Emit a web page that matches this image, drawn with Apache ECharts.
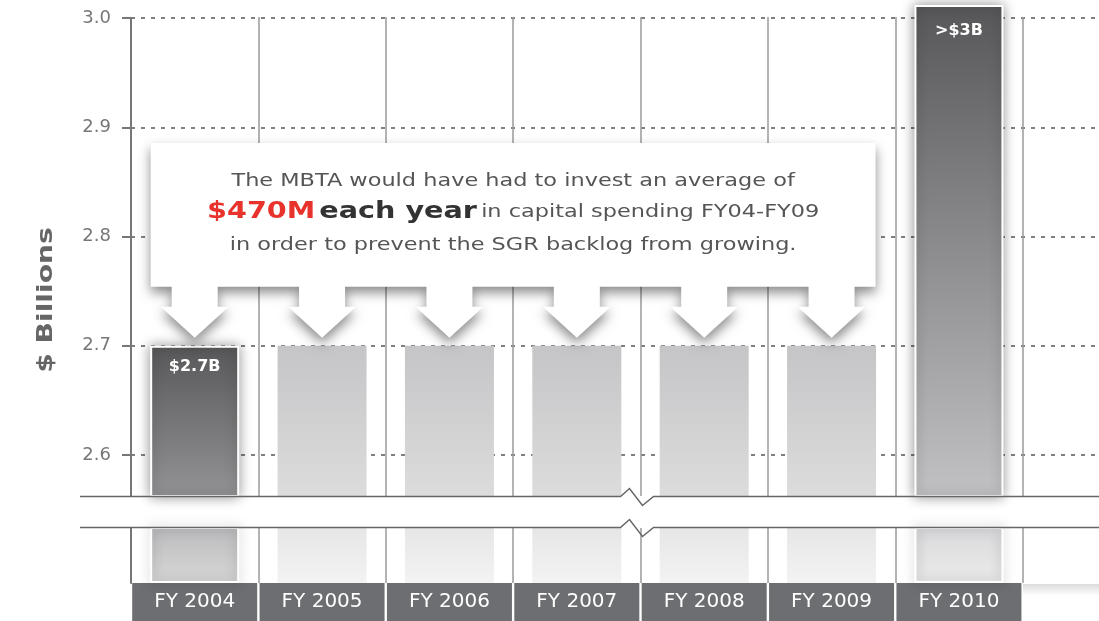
<!DOCTYPE html>
<html>
<head>
<meta charset="utf-8">
<script src="https://cdn.jsdelivr.net/npm/echarts@6/dist/echarts.min.js"></script>
<style>
  html, body { margin: 0; padding: 0; background: #fff; }
  #chart { width: 1099px; height: 621px; }
</style>
</head>
<body>
<div id="chart"></div>
<script>
// fiscal years (last slot is empty so the grid runs on past FY 2010)
const years = ['FY 2004', 'FY 2005', 'FY 2006', 'FY 2007', 'FY 2008', 'FY 2009', 'FY 2010', '']
// SGR backlog, $ billions
const backlog = [2.7, 2.7, 2.7, 2.7, 2.7, 2.7, 3.012]
const barLabels = ['$2.7B', '', '', '', '', '', '>$3B']
const yTicks = [2.6, 2.7, 2.8, 2.9, 3.0]
const darkBars = [0, 6]

const FONT = 'DejaVu Sans'
const chart = echarts.init(document.getElementById('chart'))

const grad = (a, b) => new echarts.graphic.LinearGradient(0, 0, 0, 1, [
  { offset: 0, color: a },
  { offset: 1, color: b }
])

const topColors = {
  0: ['#58585a', '#939395'],
  6: ['#575759', '#c2c2c4']
}
const lowColors = {
  0: ['#bcbcbe', '#d8d8d8'],
  6: ['#dadadc', '#ebebeb']
}

const darkStyle = {
  borderColor: '#fff',
  borderWidth: 2,
  shadowBlur: 12,
  shadowColor: 'rgba(0,0,0,0.4)'
}

const topData = backlog.map((v, i) => {
  const dark = darkBars.includes(i)
  return {
    value: v,
    itemStyle: dark
      ? Object.assign({ color: grad(topColors[i][0], topColors[i][1]) }, darkStyle)
      : { color: grad('#c5c5c7', '#dcdcdd') },
    label: {
      show: !!barLabels[i],
      formatter: barLabels[i],
      distance: i === 6 ? 18 : 13
    }
  }
})

const lowData = backlog.map((v, i) => {
  const dark = darkBars.includes(i)
  return {
    value: v,
    itemStyle: dark
      ? Object.assign({ color: grad(lowColors[i][0], lowColors[i][1]) }, darkStyle)
      : { color: grad('#e6e6e7', '#f3f3f3') }
  }
})

const option = {
  animation: false,
  backgroundColor: '#fff',
  grid: [
    { left: 131, right: -51, top: 5, bottom: 125, outerBoundsMode: 'none', containLabel: false },
    { left: 131, right: -51, top: 528, bottom: 38, outerBoundsMode: 'none', containLabel: false }
  ],
  xAxis: [
    {
      type: 'category',
      gridIndex: 0,
      data: years,
      axisLine: { show: false },
      axisTick: { show: false },
      axisLabel: { show: false },
      splitLine: { show: true, lineStyle: { color: '#9a9a9a', width: 1.5 } }
    },
    {
      type: 'category',
      gridIndex: 1,
      data: years,
      axisLine: { show: false },
      axisTick: { show: false },
      splitLine: { show: true, lineStyle: { color: '#9a9a9a', width: 1.5 } },
      axisLabel: {
        interval: 0,
        margin: 0,
        formatter: v => v ? '{b|' + v + '}' : '',
        rich: {
          b: {
            width: 125,
            height: 38,
            lineHeight: 38,
            backgroundColor: '#6d6e71',
            color: '#fff',
            fontSize: 20,
            fontFamily: FONT,
            align: 'center'
          }
        }
      }
    }
  ],
  yAxis: [
    {
      type: 'value',
      gridIndex: 0,
      min: 2.5625,
      max: 3.012,
      axisLine: { show: true, lineStyle: { color: '#777', width: 2 } },
      axisTick: { show: true, length: 9, customValues: yTicks, lineStyle: { color: '#777', width: 2 } },
      axisLabel: {
        customValues: yTicks,
        margin: 20,
        color: '#777',
        fontSize: 18,
        fontFamily: FONT,
        formatter: v => v.toFixed(1)
      },
      splitLine: { show: true, lineStyle: { color: '#555', width: 1.5, type: [4, 6] } }
    },
    {
      type: 'value',
      gridIndex: 1,
      min: 0,
      max: 0.5,
      axisLine: { show: true, lineStyle: { color: '#777', width: 2 } },
      axisTick: { show: false },
      axisLabel: { show: false },
      splitLine: { show: false }
    }
  ],
  series: [
    {
      name: 'backlog',
      type: 'bar',
      xAxisIndex: 0,
      yAxisIndex: 0,
      barWidth: 89,
      clip: true,
      data: topData,
      label: {
        position: 'insideTop',
        color: '#fff',
        fontWeight: 'bold',
        fontSize: 16,
        fontFamily: FONT
      }
    },
    {
      name: 'backlog-base',
      type: 'bar',
      xAxisIndex: 1,
      yAxisIndex: 1,
      barWidth: 89,
      clip: true,
      data: lowData
    }
  ]
}

chart.setOption(option)

// callout box with one arrow per FY04-FY09 bar
const centers = []
for (let i = 0; i < 6; i++) {
  centers.push(chart.convertToPixel({ seriesIndex: 0 }, [i, backlog[i]]))
}
const half = 44
const boxL = centers[0][0] - half
const boxR = centers[5][0] + half
const tipY = centers[0][1] - 8
const headY = tipY - 31
const boxB = tipY - 51
const boxT = 143
const pts = [[boxL, boxT], [boxR, boxT], [boxR, boxB]]
for (let i = 5; i >= 0; i--) {
  const c = centers[i][0]
  pts.push([c + 23, boxB], [c + 23, headY], [c + 34, headY], [c, tipY],
    [c - 34, headY], [c - 23, headY], [c - 23, boxB])
}
pts.push([boxL, boxB])
const midX = (boxL + boxR) / 2

// axis lines start at the 3.0 gridline, only the FY2010 bar pokes above it
const topY = chart.convertToPixel({ yAxisIndex: 0 }, 3.0)

// axis break marks
const sep = chart.convertToPixel({ xAxisIndex: 0 }, 4) - 63.7
const breakLine = y => [[80, y], [sep - 20, y], [sep - 11, y - 8], [sep + 2, y + 9], [sep + 13, y], [1099, y]]

const STRETCH = 1.245

chart.setOption({
  graphic: [
    {
      type: 'rect', z: 1,
      shape: { x: 124, y: 0, width: 975, height: topY - 1 },
      style: { fill: '#fff' }
    },
    {
      type: 'rect', z: 1,
      shape: { x: 1023, y: 584, width: 76, height: 12 },
      style: {
        fill: new echarts.graphic.LinearGradient(0, 0, 0, 1, [
          { offset: 0, color: 'rgba(0,0,0,0.14)' },
          { offset: 1, color: 'rgba(0,0,0,0)' }
        ])
      }
    },
    {
      type: 'polygon',
      z: 100,
      shape: { points: pts },
      style: {
        fill: '#fff',
        shadowBlur: 12,
        shadowOffsetY: 6,
        shadowColor: 'rgba(0,0,0,0.45)'
      }
    },
    {
      type: 'text', z: 101, x: midX, y: 181, scaleX: STRETCH,
      style: {
        text: 'The MBTA would have had to invest an average of',
        align: 'center', verticalAlign: 'middle',
        font: '18px "DejaVu Sans"', fill: '#555'
      }
    },
    {
      type: 'text', z: 101, x: midX, y: 212, scaleX: STRETCH,
      style: {
        text: '{r|$470M} {k|each year} {n|in capital spending FY04-FY09}',
        align: 'center', verticalAlign: 'middle',
        rich: {
          r: { fontSize: 23, fontWeight: 'bold', fontFamily: FONT, fill: '#e8322c' },
          k: { fontSize: 23, fontWeight: 'bold', fontFamily: FONT, fill: '#333' },
          n: { fontSize: 18, fontFamily: FONT, fill: '#555' }
        }
      }
    },
    {
      type: 'text', z: 101, x: midX, y: 245, scaleX: STRETCH,
      style: {
        text: 'in order to prevent the SGR backlog from growing.',
        align: 'center', verticalAlign: 'middle',
        font: '18px "DejaVu Sans"', fill: '#555'
      }
    },
    {
      type: 'polyline', z: 110,
      shape: { points: breakLine(496.5) },
      style: { stroke: '#666', lineWidth: 1.5, fill: null }
    },
    {
      type: 'polyline', z: 110,
      shape: { points: breakLine(527.5) },
      style: { stroke: '#666', lineWidth: 1.5, fill: null }
    },
    {
      type: 'text', z: 101, x: 46, y: 300, rotation: Math.PI / 2, scaleX: 1.28,
      style: {
        text: '$ Billions',
        align: 'center', verticalAlign: 'middle',
        font: 'bold 22px "DejaVu Sans"', fill: '#666'
      }
    }
  ]
})
</script>
</body>
</html>
